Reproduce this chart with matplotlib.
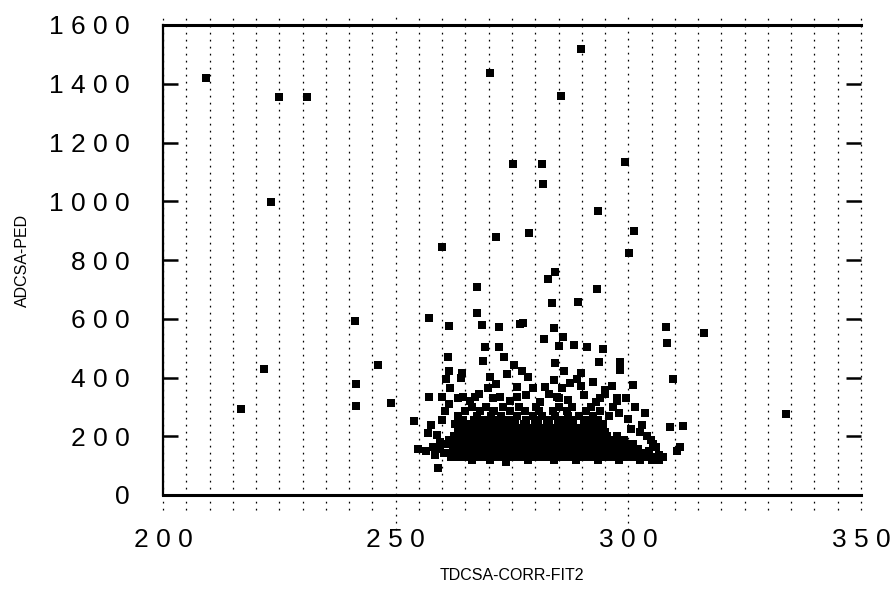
import numpy as np
import matplotlib
matplotlib.use("Agg")
import matplotlib.pyplot as plt

# ---------------- Data ----------------
# isolated points, TDCSA-CORR-FIT2 vs ADCSA-PED
out_x = [209.3, 224.9, 230.9, 270.2, 289.8, 285.5, 223.3, 275.3, 281.5, 299.3,
         281.7, 293.5, 278.7, 301.3, 300.2, 260.0, 271.5, 284.2, 282.8, 267.5,
         293.2, 289.2, 283.5, 267.4, 257.2, 241.2, 276.7, 277.3, 268.6, 261.4,
         272.3, 284.0, 308.0, 316.3, 286.0, 281.9, 308.4, 269.3, 272.2, 285.0,
         288.3, 291.1, 294.6, 261.2, 273.3, 268.8, 293.8, 298.2, 284.2, 246.1,
         275.5, 221.7, 277.2, 261.5, 286.2, 298.2, 264.2, 274.0, 289.8, 278.4,
         270.3, 264.0, 260.9, 284.0, 288.9, 309.7, 292.5, 287.5, 271.6, 241.4,
         289.9, 296.4, 301.1, 276.0, 282.1, 261.7, 269.9, 279.6, 285.7, 295.0,
         257.2, 259.9, 264.5, 267.0, 272.4, 276.0, 284.6, 293.9, 297.5, 285.0,
         241.5, 248.9, 216.8, 253.9, 254.8, 333.9, 259.0, 273.8, 311.7, 309.0,
         311.0, 305.3]
out_y = [1418, 1356, 1354, 1435, 1518, 1358, 998, 1126, 1126, 1133,
         1058, 967, 891, 900, 823, 843, 877, 758, 734, 707,
         701, 658, 655, 621, 604, 593, 581, 586, 580, 575,
         571, 567, 573, 550, 537, 530, 516, 505, 505, 508,
         510, 505, 496, 469, 469, 457, 454, 454, 448, 443,
         441, 429, 423, 423, 423, 426, 414, 411, 416, 403,
         401, 397, 394, 391, 394, 394, 386, 380, 378, 378,
         371, 371, 374, 369, 369, 365, 365, 363, 363, 357,
         334, 334, 334, 334, 334, 334, 334, 329, 329, 329,
         304, 312, 292, 252, 156, 276, 93, 113, 235, 231,
         163, 129]

# points around the edge of the dense cluster
halo_x = [257.5, 258.8, 259.5, 258.0, 256.5, 258.5, 260.0, 257.0, 260.5, 261.5,
          303.5, 304.5, 305.2, 304.0, 306.5, 307.5, 305.5, 304.8, 306.0, 310.5,
          302.5, 303.0, 300.0, 298.0, 301.5, 297.5, 295.0, 299.5, 303.5, 300.5,
          263.5, 266.0, 268.0, 271.0, 274.5, 278.0, 281.0, 283.0, 287.0, 290.5,
          293.0]
halo_y = [240, 205, 180, 165, 150, 135, 255, 210, 285, 310,
          130, 150, 175, 200, 135, 128, 120, 187, 163, 150,
          215, 240, 260, 280, 300, 320, 345, 330, 280, 225,
          330, 320, 345, 330, 320, 340, 318, 345, 325, 340,
          318]

# dense cluster, one list of x positions per ADC level
core_levels = [118, 130, 144, 158, 172, 186, 200, 214, 228, 242, 256, 270, 285, 300]
core_rows = [
    [266.5, 270.2, 273.8, 278.5, 284.0, 288.7, 293.5, 298.0, 302.5, 305.0, 306.5],
    [261.8, 263.2, 264.6, 266.0, 267.3, 268.7, 270.0, 271.4, 272.8, 274.1, 275.5,
     276.9, 278.2, 279.6, 281.0, 282.3, 283.7, 285.1, 286.4, 287.8, 289.2, 290.5,
     291.9, 293.3, 294.6, 296.0, 297.4, 298.7, 300.1, 301.5],
    [260.3, 261.7, 263.0, 264.5, 265.8, 267.1, 268.6, 269.9, 271.2, 272.6, 274.0,
     275.3, 276.7, 278.1, 279.4, 280.8, 282.2, 283.5, 284.9, 286.3, 287.6, 289.0,
     290.4, 291.7, 293.1, 294.5, 295.8, 297.2, 298.6, 299.9, 301.3, 302.7],
    [259.5, 262.3, 263.7, 265.1, 266.4, 267.8, 269.2, 270.5, 271.9, 273.3, 274.6,
     276.0, 277.4, 278.7, 280.1, 281.5, 282.8, 284.2, 285.6, 286.9, 288.3, 289.7,
     291.0, 292.4, 293.8, 295.1, 296.5, 297.9, 299.2, 300.6, 302.0],
    [261.0, 262.8, 264.2, 265.6, 266.9, 268.3, 269.7, 271.0, 272.4, 273.8, 275.1,
     276.5, 277.9, 279.2, 280.6, 282.0, 283.3, 284.7, 286.1, 287.4, 288.8, 290.2,
     291.5, 292.9, 294.3, 295.6, 297.0, 298.4, 299.7, 301.1],
    [261.5, 263.5, 264.9, 266.2, 267.6, 269.0, 270.3, 271.7, 273.1, 274.4, 275.8,
     277.2, 278.5, 279.9, 281.3, 282.6, 284.0, 285.4, 286.7, 288.1, 289.5, 290.8,
     292.2, 293.6, 294.9, 296.3, 297.7, 299.0],
    [262.5, 264.0, 265.3, 266.7, 268.1, 269.4, 270.8, 272.2, 273.5, 274.9, 276.3,
     277.6, 279.0, 280.4, 281.7, 283.1, 284.5, 285.8, 287.2, 288.6, 289.9, 291.3,
     292.7, 294.0, 295.4, 297.5],
    [263.4, 265.0, 266.5, 268.0, 269.6, 271.0, 272.4, 274.0, 275.4, 277.0, 278.4,
     279.9, 281.4, 282.8, 284.3, 285.8, 287.2, 288.7, 290.2, 291.6, 293.2, 295.0],
    [264.0, 266.2, 267.8, 269.3, 271.5, 273.0, 274.6, 276.8, 278.3, 279.8, 282.0,
     283.5, 285.7, 287.4, 289.0, 291.0, 293.0],
    [262.8, 265.5, 268.5, 270.2, 272.1, 274.0, 275.6, 277.5, 280.5, 282.6, 284.8,
     286.5, 288.2, 290.5, 292.3, 294.5],
    [264.5, 266.8, 269.0, 271.8, 273.4, 275.0, 278.0, 280.0, 283.0, 285.5, 288.0,
     291.2, 293.5],
    [263.5, 267.5, 270.5, 272.7, 276.0, 279.5, 281.5, 284.2, 287.0, 289.5, 292.5, 295.8],
    [265.0, 268.2, 271.2, 274.5, 277.8, 280.9, 283.8, 286.8, 290.8, 294.0],
    [266.3, 269.5, 273.0, 276.5, 280.2, 285.0, 288.0, 292.0, 296.8],
]

y_ticks = [0, 200, 400, 600, 800, 1000, 1200, 1400, 1600]
x_ticks = [200, 250, 300, 350]
x_grid = list(range(200, 351, 5))

# ---------------- Build arrays ----------------
core_x, core_y = [], []
for lev, row in zip(core_levels, core_rows):
    core_x += row
    core_y += [lev] * len(row)

all_x = np.array(out_x + halo_x + core_x)
all_y = np.array(out_y + halo_y + core_y)

# ---------------- Plot ----------------
font = ['Liberation Sans', 'DejaVu Sans']
fig = plt.figure(figsize=(8.92, 5.90), dpi=100)
ax = fig.add_axes([163 / 892, 95 / 590, 698 / 892, 470 / 590])

ax.set_xlim(200, 350)
ax.set_ylim(0, 1600)

# dotted verticals, running a little past the frame like the scan
trans = ax.get_xaxis_transform()
for gx in x_grid:
    lo = -0.075 if gx in (250, 300) else -0.032
    ax.vlines(gx, lo, 1.018, transform=trans, colors='black', linewidth=0.9,
              linestyles=(0, (1.4, 4.2)), clip_on=False, zorder=1)

ax.scatter(all_x, all_y, marker='s', s=30, color='black', linewidths=0, zorder=3)

for side in ['top', 'bottom']:
    ax.spines[side].set_linewidth(2.2)
ax.spines['left'].set_linewidth(1.6)
ax.spines['right'].set_visible(False)

ax.set_yticks(y_ticks)
ax.set_yticklabels([' '.join(str(v)) for v in y_ticks], fontsize=19, family=font)
ax.set_xticks(x_ticks)
ax.set_xticklabels([' '.join(str(v)) for v in x_ticks], fontsize=19, family=font)
ax.tick_params(axis='y', direction='in', length=11, width=1.8, left=True,
               right=True, pad=24)
ax.tick_params(axis='x', length=0, pad=24)

ax.set_xlabel('TDCSA-CORR-FIT2', fontsize=11.5, family=font)
ax.set_ylabel('ADCSA-PED', fontsize=11.5, family=font)
ax.xaxis.set_label_coords(0.5, -0.155)
ax.yaxis.set_label_coords(-0.19, 0.5)

fig.savefig('out.png', dpi=100)
